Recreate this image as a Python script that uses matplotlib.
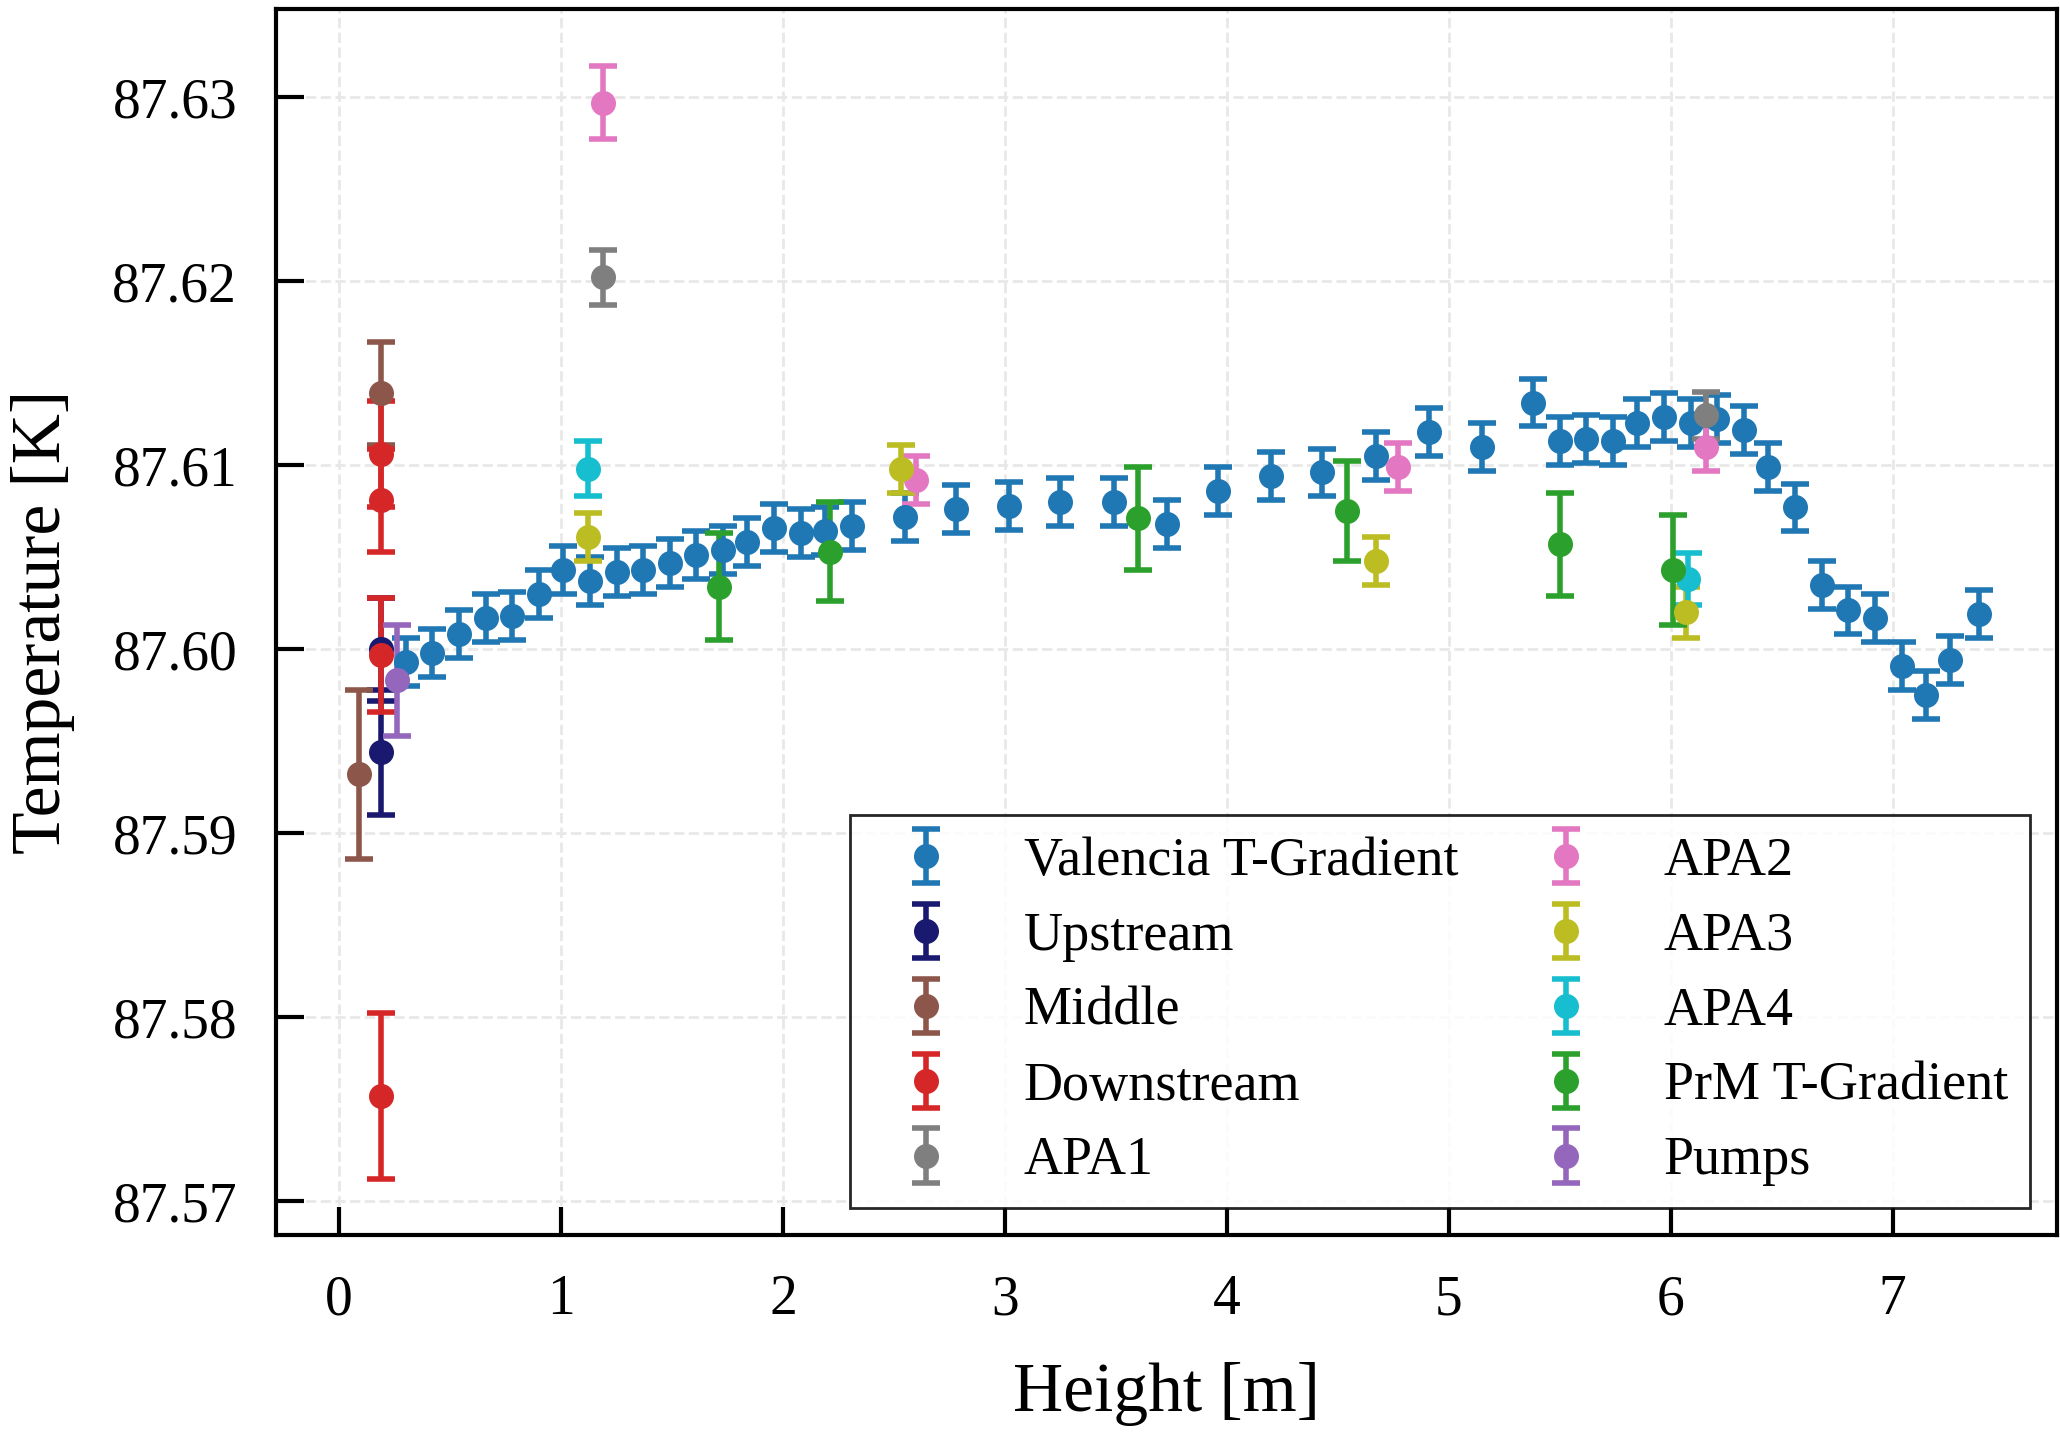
import matplotlib
matplotlib.use("Agg")
import matplotlib.pyplot as plt

plt.rcParams['font.family'] = ['Liberation Serif', 'DejaVu Serif']

# Valencia T-Gradient (blue)
val_h = [0.30, 0.42, 0.54, 0.66, 0.78, 0.90, 1.01, 1.13, 1.25, 1.37, 1.49, 1.61,
         1.73, 1.84, 1.96, 2.08, 2.19, 2.31, 2.55, 2.78, 3.02, 3.25, 3.49, 3.73,
         3.96, 4.20, 4.43, 4.67, 4.91, 5.15, 5.38, 5.50, 5.62, 5.74, 5.85, 5.97,
         6.09, 6.21, 6.33, 6.44, 6.56, 6.68, 6.80, 6.92, 7.04, 7.15, 7.26, 7.39]
val_T = [87.5993, 87.5998, 87.6008, 87.6017, 87.6018, 87.6030, 87.6043, 87.6037,
         87.6042, 87.6043, 87.6047, 87.6051, 87.6054, 87.6058, 87.6066, 87.6063,
         87.6064, 87.6067, 87.6072, 87.6076, 87.6078, 87.6080, 87.6080, 87.6068,
         87.6086, 87.6094, 87.6096, 87.6105, 87.6118, 87.6110, 87.6134, 87.6113,
         87.6114, 87.6113, 87.6123, 87.6126, 87.6123, 87.6125, 87.6119, 87.6099,
         87.6077, 87.6035, 87.6021, 87.6017, 87.5991, 87.5975, 87.5994, 87.6019]
val_err = 0.0013

ups_h = [0.19, 0.19]
ups_T = [87.6000, 87.5944]
ups_err = [0.0028, 0.0034]

mid_h = [0.19, 0.09]
mid_T = [87.6139, 87.5932]
mid_err = [0.0028, 0.0046]

down_h = [0.19, 0.19, 0.19, 0.19]
down_T = [87.6106, 87.6081, 87.5997, 87.5757]
down_err = [0.0029, 0.0028, 0.0031, 0.0045]

apa1_h = [1.19, 6.16]
apa1_T = [87.6202, 87.6127]
apa1_err = [0.0015, 0.0013]

apa2_h = [1.19, 2.60, 4.77, 6.16]
apa2_T = [87.6297, 87.6092, 87.6099, 87.6110]
apa2_err = [0.0020, 0.0013, 0.0013, 0.0013]

apa3_h = [1.12, 2.53, 4.67, 6.07]
apa3_T = [87.6061, 87.6098, 87.6048, 87.6020]
apa3_err = [0.0013, 0.0013, 0.0013, 0.0014]

apa4_h = [1.12, 6.08]
apa4_T = [87.6098, 87.6038]
apa4_err = [0.0015, 0.0014]

prm_h = [1.71, 2.21, 3.60, 4.54, 5.50, 6.01]
prm_T = [87.6034, 87.6053, 87.6071, 87.6075, 87.6057, 87.6043]
prm_err = [0.0029, 0.0027, 0.0028, 0.0027, 0.0028, 0.0030]

pump_h = [0.26]
pump_T = [87.5983]
pump_err = [0.0030]

series = [
    ("Valencia T-Gradient", val_h, val_T, val_err, "#1f77b4"),
    ("Upstream", ups_h, ups_T, ups_err, "#191970"),
    ("Middle", mid_h, mid_T, mid_err, "#8c564b"),
    ("Downstream", down_h, down_T, down_err, "#d62728"),
    ("APA1", apa1_h, apa1_T, apa1_err, "#7f7f7f"),
    ("APA2", apa2_h, apa2_T, apa2_err, "#e377c2"),
    ("APA3", apa3_h, apa3_T, apa3_err, "#bcbd22"),
    ("APA4", apa4_h, apa4_T, apa4_err, "#17becf"),
    ("PrM T-Gradient", prm_h, prm_T, prm_err, "#2ca02c"),
    ("Pumps", pump_h, pump_T, pump_err, "#9467bd"),
]

fig = plt.figure(figsize=(10.3, 7.165), dpi=200)
ax = fig.add_axes([0.134, 0.138, 0.8645, 0.8557])

for name, h, T, err, c in series:
    ax.errorbar(h, T, yerr=err, fmt='o', color=c, markersize=8,
                elinewidth=2, capsize=5, capthick=2, label=name)

ax.set_xlim(-0.284, 7.74)
ax.set_ylim(87.56814, 87.63479)
ax.set_yticks([87.57, 87.58, 87.59, 87.60, 87.61, 87.62, 87.63])
ax.set_yticklabels(['87.57', '87.58', '87.59', '87.60', '87.61', '87.62', '87.63'])
ax.set_xticks(range(8))

ax.grid(True, linestyle='--', color='#e8e8e8', linewidth=1)
ax.set_axisbelow(True)
for s in ax.spines.values():
    s.set_linewidth(1.5)
ax.tick_params(direction='in', length=10, width=1.5, labelsize=20, pad=14)

ax.set_xlabel('Height [m]', fontsize=25, labelpad=13)
ax.set_ylabel('Temperature [K]', fontsize=25, labelpad=13.5)

leg = ax.legend(ncol=2, loc='lower right', fontsize=19.5, fancybox=False,
                edgecolor='black', framealpha=0.85, handlelength=2.0,
                columnspacing=1.0, labelspacing=0.45)
leg.get_frame().set_linewidth(1.0)

fig.savefig('out.png', dpi=200)
